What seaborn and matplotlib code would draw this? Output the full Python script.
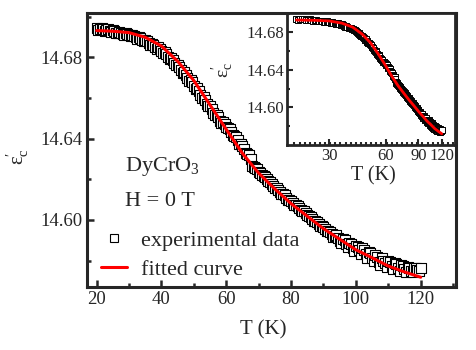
import numpy as np
import pandas as pd
import matplotlib
matplotlib.use("Agg")
import matplotlib.pyplot as plt
from matplotlib.lines import Line2D
from matplotlib.ticker import FixedLocator, NullFormatter, FixedFormatter
import seaborn as sns

# ---------------- data ----------------
T_data = list(range(20, 121))
eps_data = [
    14.6945, 14.6940, 14.6938, 14.6936, 14.6929, 14.6933, 14.6921, 14.6925, 14.6913, 14.6918,
    14.6907, 14.6910, 14.6898, 14.6900, 14.6886, 14.6885, 14.6868, 14.6866, 14.6851, 14.6849,
    14.6830, 14.6824, 14.6802, 14.6795, 14.6771, 14.6762, 14.6736, 14.6726, 14.6697, 14.6688,
    14.6660, 14.6648, 14.6615, 14.6603, 14.6572, 14.6560, 14.6528, 14.6517, 14.6488, 14.6480,
    14.6458, 14.6446, 14.6418, 14.6408, 14.6375, 14.6365, 14.6330, 14.6318, 14.6265, 14.6255,
    14.6238, 14.6222, 14.6210, 14.6190, 14.6178, 14.6158, 14.6148, 14.6128, 14.6122, 14.6100,
    14.6095, 14.6075, 14.6068, 14.6048, 14.6042, 14.6022, 14.6015, 14.5995, 14.5990, 14.5970,
    14.5965, 14.5945, 14.5942, 14.5918, 14.5925, 14.5895, 14.5905, 14.5880, 14.5888, 14.5860,
    14.5870, 14.5852, 14.5860, 14.5830, 14.5842, 14.5812, 14.5828, 14.5795, 14.5812, 14.5786,
    14.5800, 14.5775, 14.5790, 14.5762, 14.5778, 14.5758, 14.5770, 14.5748, 14.5765, 14.5752,
    14.5762,
]
T_half = [t + 0.5 for t in range(20, 120)]
eps_half = [
    14.6935, 14.6944, 14.6930, 14.6938, 14.6925, 14.6928, 14.6917, 14.6920, 14.6910, 14.6912,
    14.6902, 14.6904, 14.6892, 14.6894, 14.6878, 14.6878, 14.6860, 14.6858, 14.6842, 14.6840,
    14.6820, 14.6815, 14.6790, 14.6785, 14.6760, 14.6750, 14.6723, 14.6712, 14.6684, 14.6676,
    14.6646, 14.6634, 14.6600, 14.6590, 14.6558, 14.6546, 14.6514, 14.6505, 14.6478, 14.6472,
    14.6452, 14.6432, 14.6415, 14.6392, 14.6372, 14.6348, 14.6325, 14.6300, 14.6260, 14.6248,
    14.6230, 14.6218, 14.6200, 14.6186, 14.6168, 14.6155, 14.6138, 14.6126, 14.6110, 14.6098,
    14.6085, 14.6072, 14.6058, 14.6046, 14.6032, 14.6020, 14.6005, 14.5993, 14.5980, 14.5968,
    14.5955, 14.5946, 14.5930, 14.5922, 14.5910, 14.5885, 14.5902, 14.5868, 14.5882, 14.5848,
    14.5868, 14.5832, 14.5850, 14.5815, 14.5835, 14.5798, 14.5818, 14.5780, 14.5800, 14.5768,
    14.5792, 14.5758, 14.5782, 14.5748, 14.5772, 14.5745, 14.5765, 14.5742, 14.5762, 14.5750,
]
T_fit = [20, 25, 30, 35, 40, 45, 50, 55, 60, 65, 70, 75, 80, 85, 90, 95, 100, 105, 110, 115, 120]
eps_fit = [14.6931, 14.6928, 14.6921, 14.6898, 14.6855, 14.6780, 14.6685, 14.6565, 14.6445,
           14.6327, 14.6230, 14.6152, 14.6080, 14.6018, 14.5957, 14.5905, 14.5853, 14.5814,
           14.5773, 14.5744, 14.5718]

main_xticks = [20, 40, 60, 80, 100, 120]
main_yticks = [14.60, 14.64, 14.68]
inset_xticks = [30, 60, 90, 120]
inset_yticks = [14.60, 14.64, 14.68]

df_data = pd.DataFrame({"T": T_data + T_half, "eps": eps_data + eps_half}).sort_values("T")
df_fit = pd.DataFrame({"T": T_fit, "eps": eps_fit})

# ---------------- style ----------------
sns.set_theme(style="ticks")
plt.rcParams["font.family"] = ["Liberation Serif", "DejaVu Serif"]
plt.rcParams["mathtext.fontset"] = "custom"
plt.rcParams["mathtext.rm"] = "Liberation Serif"
plt.rcParams["mathtext.it"] = "Liberation Serif:italic"
plt.rcParams["mathtext.bf"] = "Liberation Serif:bold"

fig = plt.figure(figsize=(4.76, 3.5), dpi=100)
ax = fig.add_axes([0.182, 0.18, 0.776, 0.7837])

sns.scatterplot(data=df_data, x="T", y="eps", ax=ax, marker="s", s=42,
                facecolor="white", edgecolor="black", linewidth=0.8, zorder=2, legend=False)
sns.lineplot(data=df_fit, x="T", y="eps", ax=ax, color="#ff0000", linewidth=2.2,
             zorder=3, legend=False)

ax.set_xlim(16.9, 130.9)
ax.set_ylim(14.567, 14.7019)
ax.xaxis.set_major_locator(FixedLocator(main_xticks))
ax.xaxis.set_minor_locator(FixedLocator([30, 50, 70, 90, 110, 130]))
ax.yaxis.set_major_locator(FixedLocator(main_yticks))
ax.yaxis.set_minor_locator(FixedLocator([14.58, 14.62, 14.66, 14.70]))
ax.set_yticklabels([f"{v:.2f}" for v in main_yticks])
ax.set_xticklabels([str(v) for v in main_xticks])
ax.tick_params(which="both", direction="in", width=1.8, labelsize=13.5, pad=3)
ax.tick_params(which="major", length=5)
ax.tick_params(which="minor", length=3)
for sp in ax.spines.values():
    sp.set_visible(True)
    sp.set_linewidth(2.2)

ax.set_xlabel("T (K)", fontsize=15)
ax.set_ylabel(r"$\mathregular{ε_c^{\prime}}$", fontsize=15)
ax.xaxis.set_label_coords(0.477, -0.12)
ax.yaxis.set_label_coords(-0.15, 0.474)

ax.text(0.104, 0.4375, r"DyCrO$_\mathregular{3}$", transform=ax.transAxes,
        fontsize=16, va="center", ha="left")
ax.text(0.104, 0.31, "H = 0 T", transform=ax.transAxes,
        fontsize=16, va="center", ha="left")

handles = [
    Line2D([], [], linestyle="none", marker="s", markersize=6, markerfacecolor="white",
           markeredgecolor="black", markeredgewidth=0.8),
    Line2D([], [], color="#ff0000", linewidth=2.2),
]
ax.legend(handles, ["experimental data", "fitted curve"], loc="lower left",
          bbox_to_anchor=(0.038, 0.025), frameon=False, fontsize=16,
          handlelength=1.2, handletextpad=0.6, labelspacing=0.38, borderpad=0,
          borderaxespad=0)

# ---------------- inset ----------------
axi = fig.add_axes([0.602, 0.5857, 0.3536, 0.378])
axi.set_facecolor("white")
axi.set_xscale("log")
sns.scatterplot(data=df_data, x="T", y="eps", ax=axi, marker="s", s=22,
                facecolor="white", edgecolor="black", linewidth=0.7, zorder=2, legend=False)
sns.lineplot(data=df_fit, x="T", y="eps", ax=axi, color="#ff0000", linewidth=2.0,
             zorder=3, legend=False)
axi.set_xlim(17.7, 141)
axi.set_ylim(14.5598, 14.7009)
axi.xaxis.set_major_locator(FixedLocator(inset_xticks))
axi.xaxis.set_major_formatter(FixedFormatter([str(v) for v in inset_xticks]))
axi.xaxis.set_minor_locator(FixedLocator(list(np.geomspace(19.5, 138, 32))))
axi.xaxis.set_minor_formatter(NullFormatter())
axi.yaxis.set_major_locator(FixedLocator(inset_yticks))
axi.yaxis.set_minor_locator(FixedLocator([14.58, 14.62, 14.66, 14.70]))
axi.set_yticklabels([f"{v:.2f}" for v in inset_yticks])
axi.tick_params(which="both", direction="in", width=1.5, labelsize=12, pad=2)
axi.tick_params(which="major", length=4)
axi.tick_params(which="minor", length=2.5)
for sp in axi.spines.values():
    sp.set_visible(True)
    sp.set_linewidth(2.0)
axi.set_xlabel("T (K)", fontsize=14.5)
axi.set_ylabel(r"$\mathregular{ε_c^{\prime}}$", fontsize=14)
axi.xaxis.set_label_coords(0.513, -0.16)
axi.yaxis.set_label_coords(-0.30, 0.567)

fig.savefig("out.png", dpi=100)
